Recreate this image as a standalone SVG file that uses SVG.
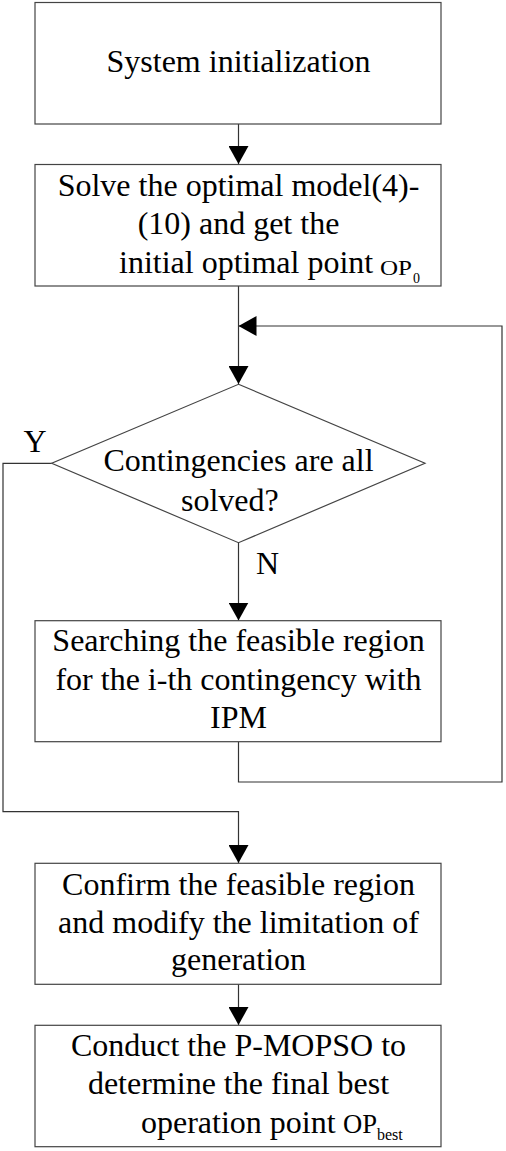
<svg xmlns="http://www.w3.org/2000/svg" width="506" height="1151" viewBox="0 0 506 1151" font-family="'Liberation Serif', 'Times New Roman', serif" font-size="32">
<defs>
<marker id="arr" viewBox="0 0 18 20" refX="18" refY="10" markerWidth="18" markerHeight="20" markerUnits="userSpaceOnUse" orient="auto">
<path d="M0,0 L18,10 L0,20 Z" fill="#000"/>
</marker>
</defs>
<style>
.box{fill:#fff;stroke:#444;stroke-width:1.2}
.ln{fill:none;stroke:#333;stroke-width:1.2}
.c{text-anchor:middle}
</style>
<rect width="506" height="1151" fill="#fff"/>
<g id="connectors">
<line class="ln" x1="238.5" y1="124" x2="238.5" y2="164" marker-end="url(#arr)"/>
<line class="ln" x1="238.5" y1="286" x2="238.5" y2="384" marker-end="url(#arr)"/>
<polyline class="ln" points="238.5,742 238.5,782 502,782 502,326 238.5,326" marker-end="url(#arr)"/>
<line class="ln" x1="238.5" y1="543" x2="238.5" y2="620.5" marker-end="url(#arr)"/>
<polyline class="ln" points="51.7,463.3 3,463.3 3,811.7 238.5,811.7 238.5,863" marker-end="url(#arr)"/>
<line class="ln" x1="238.5" y1="984" x2="238.5" y2="1025" marker-end="url(#arr)"/>
<text class="c" x="35" y="452">Y</text>
<text x="256" y="574">N</text>
</g>
<g id="n1">
<rect class="box" x="35" y="2.5" width="406" height="121.5"/>
<text class="c" x="238.5" y="72">System initialization</text>
</g>
<g id="n2">
<rect class="box" x="35" y="164.5" width="406" height="121.5"/>
<text class="c" x="238.5" y="196">Solve the optimal model(4)-</text>
<text class="c" x="238.5" y="234">(10) and get the</text>
<text x="119" y="273">initial optimal point</text>
<text x="380" y="275" font-size="20" textLength="32" lengthAdjust="spacingAndGlyphs">OP</text>
<text x="413" y="283" font-size="14">0</text>
</g>
<g id="n3">
<polygon class="box" points="238.5,384.3 425,463.3 238.5,542.7 51.7,463.3"/>
<text class="c" x="238.5" y="471">Contingencies are all</text>
<text x="181" y="510.5">solved?</text>
</g>
<g id="n4">
<rect class="box" x="35" y="620.7" width="406" height="121"/>
<text class="c" x="238.5" y="651">Searching the feasible region</text>
<text class="c" x="238.5" y="690">for the i-th contingency with</text>
<text class="c" x="238.5" y="728.3">IPM</text>
</g>
<g id="n5">
<rect class="box" x="35" y="863.3" width="406" height="121"/>
<text class="c" x="238.5" y="895">Confirm the feasible region</text>
<text class="c" x="238.5" y="933">and modify the limitation of</text>
<text class="c" x="238.5" y="970">generation</text>
</g>
<g id="n6">
<rect class="box" x="35" y="1025.3" width="406" height="121.4"/>
<text class="c" x="238.5" y="1056">Conduct the P-MOPSO to</text>
<text class="c" x="238.5" y="1094">determine the final best</text>
<text x="141" y="1133">operation point</text>
<text x="343" y="1133" font-size="28" textLength="34" lengthAdjust="spacingAndGlyphs">OP</text>
<text x="377" y="1140" font-size="16">best</text>
</g>
</svg>
